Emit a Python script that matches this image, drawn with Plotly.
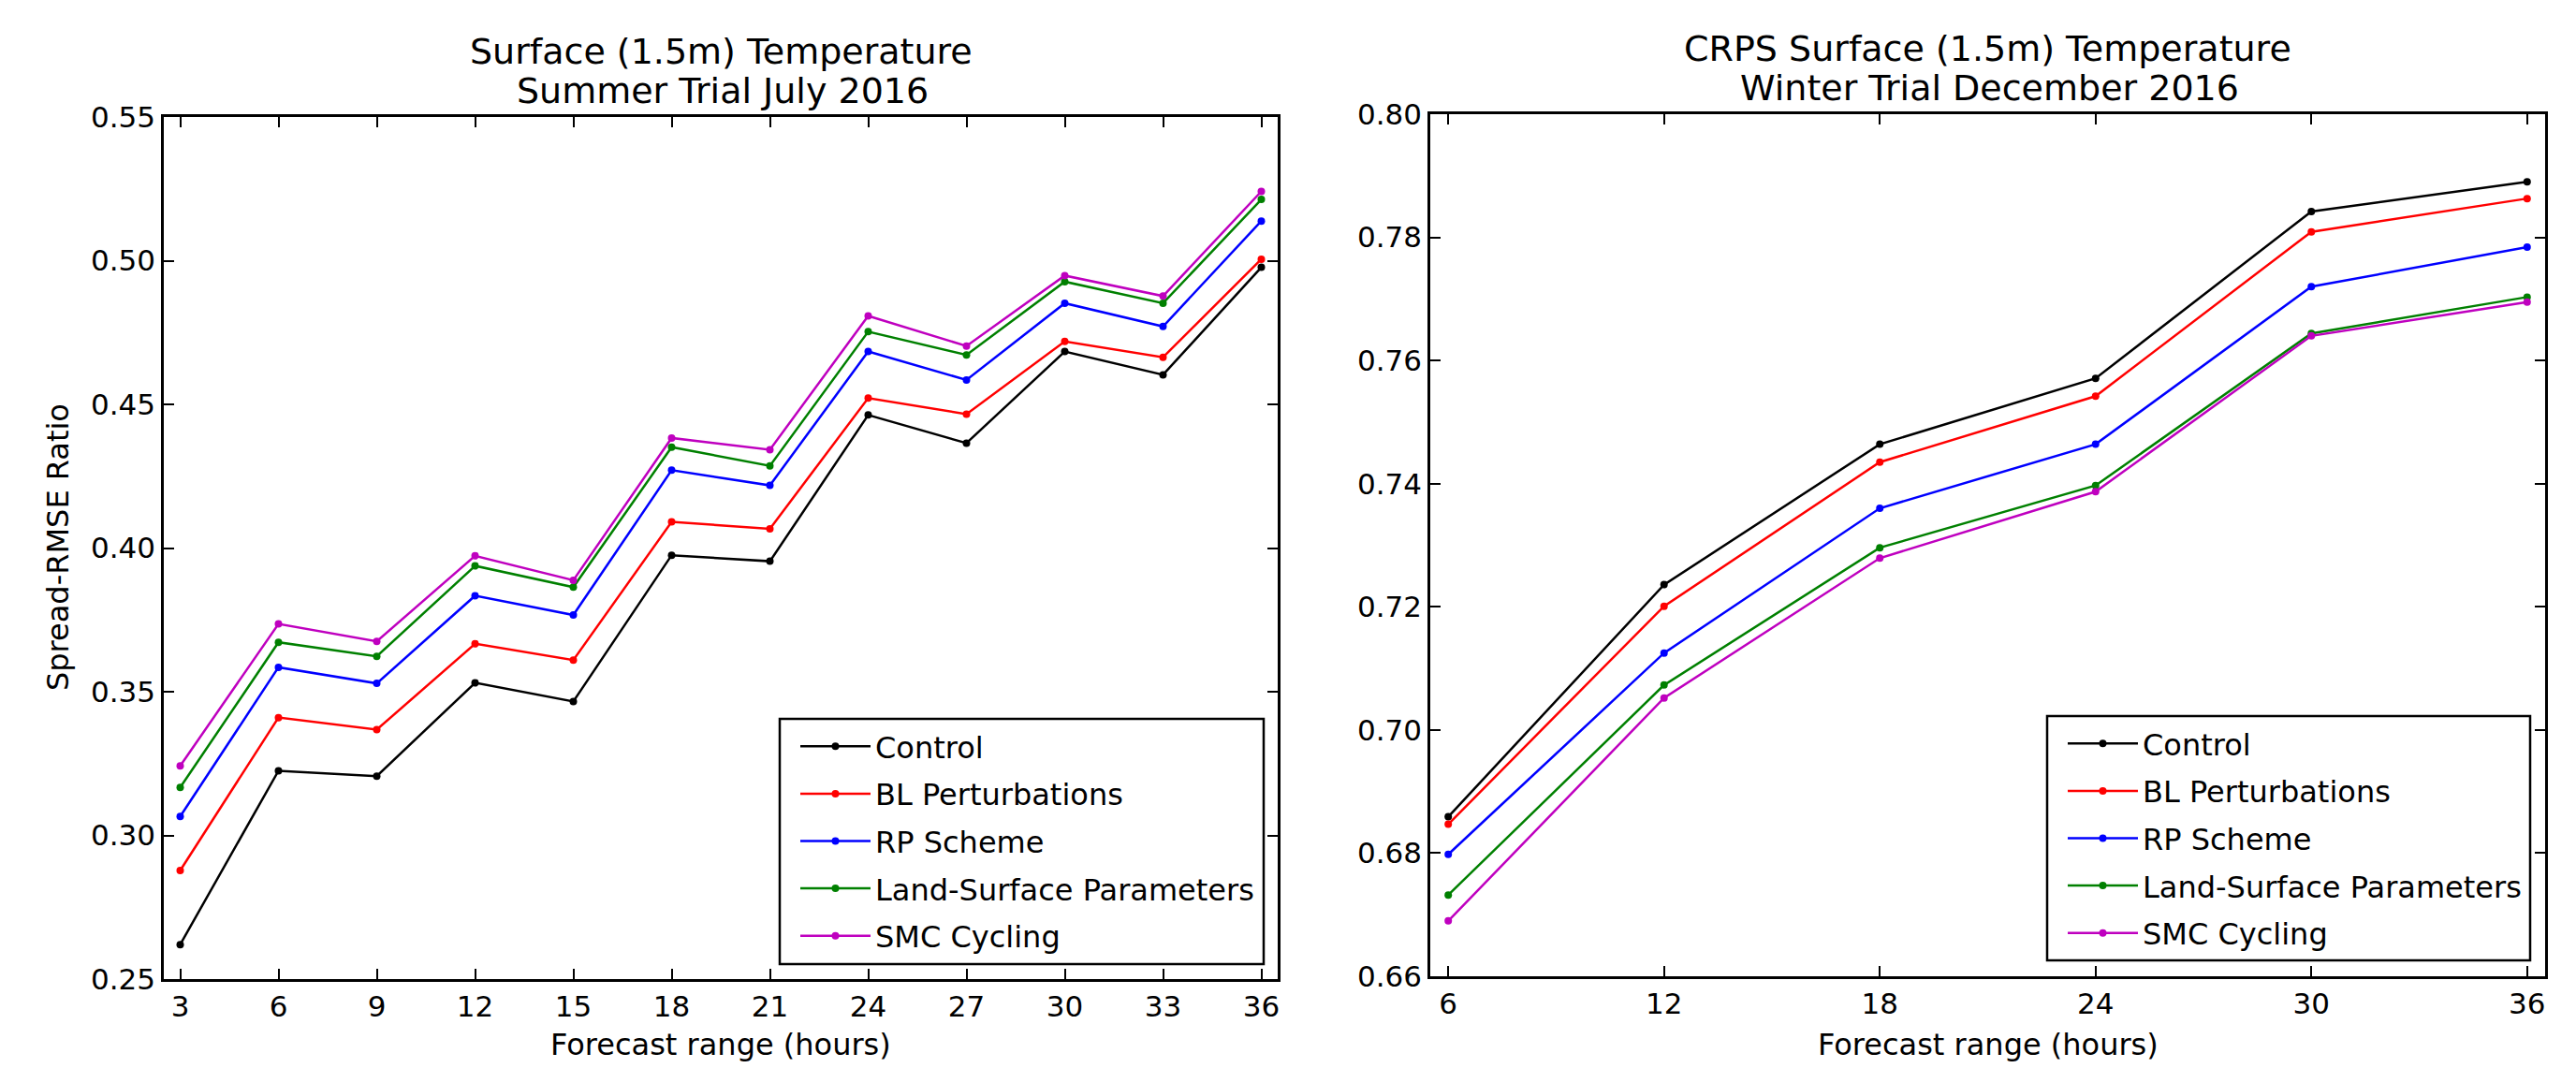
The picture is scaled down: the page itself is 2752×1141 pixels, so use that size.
import plotly.graph_objects as go

W, H = 2752, 1141

series_names = ["Control", "BL Perturbations", "RP Scheme", "Land-Surface Parameters", "SMC Cycling"]
series_colors = ["#000000", "#ff0000", "#0000ff", "#008000", "#bf00bf"]

# Left panel: Spread-RMSE ratio, summer trial
summer_hours = [3, 6, 9, 12, 15, 18, 21, 24, 27, 30, 33, 36]
summer_control = [0.262, 0.3225, 0.3206, 0.3531, 0.3466, 0.3975, 0.3954, 0.4463, 0.4365, 0.4684, 0.4603, 0.4977]
summer_bl = [0.2878, 0.3410, 0.3368, 0.3667, 0.3610, 0.4091, 0.4067, 0.4522, 0.4466, 0.4719, 0.4664, 0.5005]
summer_rp = [0.3066, 0.3585, 0.3529, 0.3834, 0.3767, 0.4271, 0.4218, 0.4684, 0.4585, 0.4852, 0.4771, 0.5138]
summer_ls = [0.3167, 0.3672, 0.3623, 0.3938, 0.3864, 0.4351, 0.4286, 0.4753, 0.4672, 0.4927, 0.4852, 0.5213]
summer_smc = [0.3242, 0.3736, 0.3675, 0.3973, 0.3888, 0.4383, 0.4342, 0.4808, 0.4703, 0.4948, 0.4877, 0.5241]

# Right panel: CRPS, winter trial
winter_hours = [6, 12, 18, 24, 30, 36]
winter_control = [0.6859, 0.7236, 0.7464, 0.7571, 0.7842, 0.7890]
winter_bl = [0.6847, 0.7201, 0.7435, 0.7542, 0.7809, 0.7863]
winter_rp = [0.6798, 0.7125, 0.7360, 0.7464, 0.7720, 0.7784]
winter_ls = [0.6732, 0.7073, 0.7296, 0.7397, 0.7644, 0.7703]
winter_smc = [0.6690, 0.7052, 0.7279, 0.7387, 0.7640, 0.7695]

left_ticks_y = [0.25, 0.30, 0.35, 0.40, 0.45, 0.50, 0.55]
right_ticks_y = [0.66, 0.68, 0.70, 0.72, 0.74, 0.76, 0.78, 0.80]

FONT = "DejaVu Sans"

def px_x(p):
    return p / W

def px_y(p):
    return 1 - p / H

fig = go.Figure()

summer = [summer_control, summer_bl, summer_rp, summer_ls, summer_smc]
winter = [winter_control, winter_bl, winter_rp, winter_ls, winter_smc]

for i, (name, col) in enumerate(zip(series_names, series_colors)):
    fig.add_trace(go.Scatter(
        x=summer_hours, y=summer[i], name=name, mode="lines+markers",
        line=dict(color=col, width=2.5), marker=dict(color=col, size=8),
        xaxis="x", yaxis="y", legend="legend", legendgroup="L%d" % i))
for i, (name, col) in enumerate(zip(series_names, series_colors)):
    fig.add_trace(go.Scatter(
        x=winter_hours, y=winter[i], name=name, mode="lines+markers",
        line=dict(color=col, width=2.5), marker=dict(color=col, size=8),
        xaxis="x2", yaxis="y2", legend="legend2", legendgroup="R%d" % i))

axis_common = dict(showline=True, linecolor="black", linewidth=2.5, mirror="ticks",
                   ticks="inside", ticklen=11, tickwidth=1.5, tickcolor="black",
                   showgrid=False, zeroline=False, automargin=False,
                   tickfont=dict(family=FONT, size=31, color="black"))

legend_common = dict(xanchor="left", yanchor="top",
                     bgcolor="rgba(0,0,0,0)", borderwidth=0,
                     font=dict(family=FONT, size=32, color="black"),
                     itemwidth=75, tracegroupgap=6)

fig.update_layout(
    width=W, height=H, autosize=False,
    margin=dict(l=0, r=0, t=0, b=0, pad=0, autoexpand=False),
    paper_bgcolor="white", plot_bgcolor="white",
    showlegend=True,
    xaxis=dict(domain=[px_x(175), px_x(1365)], range=[2.5, 36.5],
               tickmode="array", tickvals=summer_hours, anchor="y", **axis_common),
    yaxis=dict(domain=[px_y(1046), px_y(125)], range=[0.25, 0.55],
               tickmode="array", tickvals=left_ticks_y, tickformat=".2f", anchor="x", **axis_common),
    xaxis2=dict(domain=[px_x(1528), px_x(2719)], range=[5.5, 36.5],
                tickmode="array", tickvals=winter_hours, anchor="y2", **axis_common),
    yaxis2=dict(domain=[px_y(1043), px_y(122)], range=[0.66, 0.80],
                tickmode="array", tickvals=right_ticks_y, tickformat=".2f", anchor="x2", **axis_common),
    legend=dict(x=px_x(850), y=px_y(770), **legend_common),
    legend2=dict(x=px_x(2204), y=px_y(767), **legend_common),
    shapes=[
        dict(type="rect", xref="paper", yref="paper",
             x0=px_x(833), x1=px_x(1350), y0=px_y(1030), y1=px_y(768),
             line=dict(color="black", width=2.5), fillcolor="rgba(0,0,0,0)"),
        dict(type="rect", xref="paper", yref="paper",
             x0=px_x(2187), x1=px_x(2703), y0=px_y(1026), y1=px_y(765),
             line=dict(color="black", width=2.5), fillcolor="rgba(0,0,0,0)"),
    ],
)

def ann(text, x, y, size, angle=0):
    return dict(text=text, x=x, y=y, xref="paper", yref="paper", showarrow=False,
                xanchor="center", yanchor="middle", textangle=angle,
                font=dict(family=FONT, size=size, color="black"))

annotations = [
    ann("Surface (1.5m) Temperature", px_x(770), px_y(55), 38),
    ann("Summer Trial July 2016", px_x(772), px_y(97), 38),
    ann("CRPS Surface (1.5m) Temperature", px_x(2123.5), px_y(52), 38),
    ann("Winter Trial December 2016", px_x(2125), px_y(94), 38),
    ann("Forecast range (hours)", px_x(770), px_y(1116), 32),
    ann("Forecast range (hours)", px_x(2123.5), px_y(1116), 32),
    ann("Spread-RMSE Ratio", px_x(62), px_y(585), 32, -90),
]
fig.update_layout(annotations=annotations)

fig.write_html("out.html")
